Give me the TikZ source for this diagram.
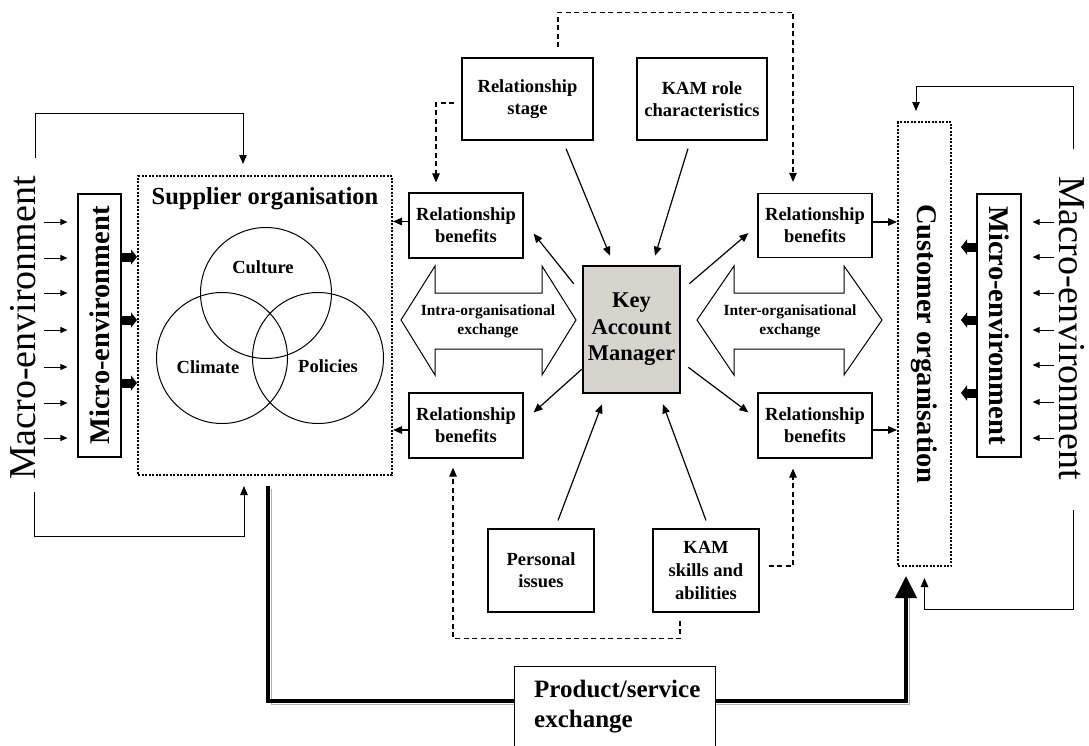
\documentclass[tikz,border=0pt]{standalone}
\usepackage{fontspec}
\setmainfont{Liberation Serif}
\usepackage{graphicx}
\usetikzlibrary{arrows.meta,calc}
\definecolor{kamfill}{RGB}{213,213,206}
\begin{document}
\begin{tikzpicture}[x=1pt,y={(0pt,-1pt)},
  box/.style={draw,line width=1.2pt,inner sep=0pt,align=center,font=\bfseries\fontsize{18.5}{22}\selectfont},
  orgbox/.style={draw,line width=2pt,dash pattern=on 2pt off 1.5pt,inner sep=0pt},
  conn/.style={line width=1.2pt,-{Triangle[length=9pt,width=7.5pt]}},
  fb/.style={line width=1pt,-{Triangle[length=9pt,width=7.5pt]}},
  dashconn/.style={line width=1.1pt,dash pattern=on 5pt off 3.5pt,-{Triangle[length=9pt,width=7.5pt]}},
  small/.style={line width=1pt,-{Triangle[length=7pt,width=6pt]}},
  fat/.style={line width=9pt,-{Triangle[length=6pt,width=15pt]}},
  venn/.style={draw,circle,line width=1pt,minimum size=131pt,inner sep=0pt},
  lbl/.style={font=\bfseries\fontsize{18.5}{22}\selectfont,align=center,inner sep=0pt},
  xlbl/.style={font=\bfseries\fontsize{15.5}{19}\selectfont,align=center,inner sep=0pt},
  exch/.style={draw,line width=1pt,line join=miter},
]
\useasboundingbox (0,0) rectangle (1089,745);

% ---------- supplier side ----------
\node[orgbox,minimum width=254pt,minimum height=299pt] (supplier) at (265,325.5) {};
\node[font=\bfseries\fontsize{24.5}{28}\selectfont,inner sep=0pt] (suptitle) at (265,199) {Supplier organisation};
\node[venn] (culture) at (266,293) {};
\node[venn] (climate) at (222,358) {};
\node[venn] (policies) at (318,358) {};
\node[lbl] (culturet) at (263,267) {Culture};
\node[lbl] (climatet) at (208,367) {Climate};
\node[lbl] (policiest) at (328,366) {Policies};

\node[draw,line width=1.2pt,minimum width=43pt,minimum height=263pt,inner sep=0pt,
      font=\bfseries\fontsize{28.5}{30}\selectfont] (microL) at (99.5,325.5) {\rotatebox{90}{Micro-environment}};
\node[inner sep=0pt,font=\fontsize{38}{40}\selectfont] (macroL) at (23,328) {\rotatebox{90}{Macro-environment}};

% ---------- customer side ----------
\node[orgbox,minimum width=53pt,minimum height=444pt,
      font=\bfseries\fontsize{28.5}{30}\selectfont] (customer) at (924.5,344) {\rotatebox{-90}{Customer organisation}};
\node[draw,line width=1.2pt,minimum width=44pt,minimum height=263pt,inner sep=0pt,
      font=\bfseries\fontsize{28.5}{30}\selectfont] (microR) at (999,325.5) {\rotatebox{-90}{Micro-environment}};
\node[inner sep=0pt,font=\fontsize{38}{40}\selectfont] (macroR) at (1072,328) {\rotatebox{-90}{Macro-environment}};

% ---------- central boxes ----------
\node[box,minimum width=131pt,minimum height=82pt] (stage) at (527.5,99) {Relationship\\stage};
\node[box,minimum width=130pt,minimum height=82pt] (role) at (702,99) {KAM role\\characteristics};
\node[box,minimum width=114pt,minimum height=65pt] (rbtl) at (466,225.5) {Relationship\\benefits};
\node[box,minimum width=114pt,minimum height=65pt] (rbbl) at (466,425.5) {Relationship\\benefits};
\node[box,minimum width=114pt,minimum height=64pt] (rbtr) at (815,225.5) {Relationship\\benefits};
\node[box,minimum width=114pt,minimum height=65pt] (rbbr) at (815,425.5) {Relationship\\benefits};
\node[draw,line width=2.6pt,fill=kamfill,minimum width=97pt,minimum height=127pt,inner sep=0pt,
      align=center,font=\bfseries\fontsize{22.5}{26.5}\selectfont] (kam) at (631.5,329.5) {Key\\Account\\Manager};
\node[box,minimum width=106pt,minimum height=83pt] (personal) at (541,570.5) {Personal\\issues};
\node[box,minimum width=106pt,minimum height=83pt,font=\bfseries\fontsize{18.5}{23}\selectfont] (skills) at (706,570.5) {KAM\\skills and\\abilities};

% ---------- exchange arrows ----------
\draw[exch] (401,320) -- (435,266) -- (435,293) -- (542,293) -- (542,266) -- (576,320)
  -- (542,375) -- (542,349) -- (435,349) -- (435,375) -- cycle;
\node[xlbl] (intra) at (488,321) {Intra-organisational\\exchange};
\draw[exch] (697,320) -- (734,266) -- (734,293) -- (844,293) -- (844,266) -- (882,320)
  -- (844,375) -- (844,349) -- (734,349) -- (734,375) -- cycle;
\node[xlbl] (inter) at (790,321) {Inter-organisational\\exchange};

% ---------- product/service exchange ----------
\begin{scope}
  \clip (0,0) rectangle (1089,745);
  \node[draw,line width=1.2pt,minimum width=201pt,minimum height=88pt,anchor=north west,inner sep=0pt] (prod) at (514,666) {};
  \node[anchor=north west,align=left,inner sep=0pt,font=\bfseries\fontsize{25}{30}\selectfont] (prodt) at (534,680) {Product/service\\exchange};
\end{scope}
\draw[gray!60,line width=1pt] ($(supplier.south)+(6.5,13)$) |- ($(prod.west)+(0,-6)$);
\draw[line width=4pt] ($(supplier.south)+(3,10)$) |- ($(prod.west)+(0,-10)$);
\draw[gray!60,line width=1pt] ($(prod.east)+(0,-6)$) -| ($(customer.south)+(-15,31)$);
\draw[line width=4pt,-{Triangle[length=22pt,width=21pt]}] ($(prod.east)+(0,-10)$) -| ($(customer.south)+(-18.5,9)$);

% ---------- connectors around the key account manager ----------
\draw[conn] ($(stage.south)+(38.5,8)$) -- ($(kam.north)+(-21.5,-9)$);
\draw[conn] ($(role.south)+(-14,8)$) -- ($(kam.north)+(23.5,-9)$);
\draw[conn] ($(kam.north west)+(-8,19)$) -- ($(rbtl.south east)+(10,-25)$);
\draw[conn] ($(kam.north east)+(8,19)$) -- ($(rbtr.south west)+(-9,-25)$);
\draw[conn] ($(kam.south west)+(0,-25)$) -- ($(rbbl.north east)+(10,20)$);
\draw[conn] ($(kam.south east)+(7,-27)$) -- ($(rbbr.north west)+(-9,20)$);
\draw[conn] ($(personal.north)+(17,-8)$) -- ($(kam.south)+(-29.5,10)$);
\draw[conn] ($(skills.north)+(0,-8)$) -- ($(kam.south)+(31.5,10)$);

\draw[conn] ($(rbtl.west)+(0,-4)$) -- ($(rbtl.west -| supplier.east)+(0,-4)$);
\draw[conn] ($(rbbl.west)+(0,4.5)$) -- ($(rbbl.west -| supplier.east)+(0,4.5)$);
\draw[conn] ($(rbtr.east)+(0,-3.5)$) -- ($(rbtr.east -| customer.west)+(0,-3.5)$);
\draw[conn] ($(rbbr.east)+(0,4.5)$) -- ($(rbbr.east -| customer.west)+(0,4.5)$);

% ---------- dashed influences ----------
\draw[dashconn] ($(stage.west)+(-7,4)$) -| ($(rbtl.north)+(-30,-10)$);
\draw[dashconn] ($(stage.north)+(30.5,-10)$) -- ++(0,-35) -| ($(rbtr.north)+(-22,-11)$);
\draw[dashconn] ($(skills.south)+(-26,8)$) -- ++(0,18) -| ($(rbbl.south)+(-13,9)$);
\draw[dashconn] ($(skills.east)+(9,-4.5)$) -| ($(rbbr.south)+(-22,10)$);

% ---------- environment feedback loops ----------
\draw[fb] ($(macroL.north)+(12,-18)$) -- ++(0,-44) -| ($(supplier.north)+(-22,-11)$);
\draw[fb] ($(macroL.south)+(11,12)$) -- ++(0,44) -| ($(supplier.south)+(-21,10)$);
\draw[fb] ($(macroR.north)+(1,-27)$) -- ++(0,-62) -| ($(customer.north)+(-8.5,-10)$);
\draw[fb] ($(macroR.south)+(1,30)$) -- ++(0,99) -| ($(customer.south)+(0,11)$);

% ---------- environment inputs ----------
\foreach \y in {222,258,293,330,367,403,438}
  \draw[small] ($(microL.west |- 0,\y)+(-33,0)$) -- ($(microL.west |- 0,\y)+(-10,0)$);
\foreach \y in {257,320,383}
  \draw[fat] (microL.east |- 0,\y) -- (supplier.west |- 0,\y);
\foreach \y in {222,257,293,330,365,402,438}
  \draw[small] ($(microR.east |- 0,\y)+(32,0)$) -- ($(microR.east |- 0,\y)+(11,0)$);
\foreach \y in {247,320,393}
  \draw[fat] (microR.west |- 0,\y) -- ($(customer.east |- 0,\y)+(9,0)$);
\end{tikzpicture}
\end{document}
